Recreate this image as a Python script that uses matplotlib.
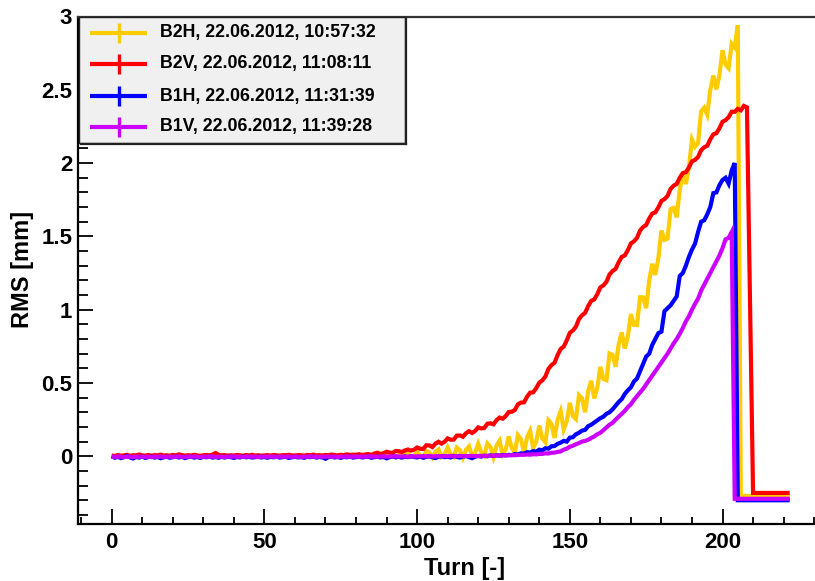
import numpy as np
import matplotlib
matplotlib.use("Agg")
import matplotlib.pyplot as plt
from matplotlib.lines import Line2D
from matplotlib.patches import Rectangle
from matplotlib.ticker import MultipleLocator

plt.rcParams['font.family'] = ['Liberation Sans', 'DejaVu Sans']
plt.rcParams['font.weight'] = 'bold'

turns = np.arange(223)

labels = ["B2H, 22.06.2012, 10:57:32",
          "B2V, 22.06.2012, 11:08:11",
          "B1H, 22.06.2012, 11:31:39",
          "B1V, 22.06.2012, 11:39:28"]
colors = ["#ffcc00", "#ff0000", "#0000ff", "#cc00ff"]

b2h = [
    0.000, 0.004, -0.003, 0.002, -0.005, 0.003, 0.000, -0.004, 0.005, -0.002,
    0.001, -0.004, 0.003, -0.001, 0.004, -0.003, 0.002, -0.005, 0.001, 0.003,
    -0.002, 0.004, -0.004, 0.002, -0.001, 0.005, -0.003, 0.000, 0.003, -0.004,
    0.002, -0.002, 0.004, -0.003, 0.006, 0.001, -0.004, 0.002, -0.002, 0.003,
    -0.005, 0.001, 0.004, -0.002, 0.002, -0.004, 0.003, 0.000, -0.003, 0.004,
    -0.001, 0.002, -0.004, 0.003, 0.000, -0.003, 0.005, -0.002, 0.001, -0.004,
    0.003, -0.001, 0.004, -0.003, 0.002, -0.005, 0.003, 0.001, -0.002, 0.004,
    -0.004, 0.002, 0.000, -0.003, 0.005, -0.002, 0.003, -0.004, 0.006, -0.001,
    0.004, -0.005, 0.007, -0.002, 0.005, -0.006, 0.008, -0.003, 0.006, -0.007,
    0.009, -0.004, 0.007, -0.008, 0.010,
    -0.005, 0.010, 0.018, -0.005, 0.003, 0.030, 0.005, -0.005, 0.036, 0.026,
    -0.008, 0.030, 0.047, -0.003, 0.014, 0.060, 0.015, -0.003, 0.059, 0.041,
    -0.010, 0.045, 0.068, 0.001, 0.024, 0.085, 0.027, 0.004, 0.087, 0.064,
    -0.005, 0.072, 0.106, 0.013, 0.046, 0.135, 0.055, 0.027, 0.144, 0.116,
    0.028, 0.129, 0.173, 0.056, 0.100, 0.210, 0.121, 0.096, 0.245, 0.220,
    0.125, 0.250, 0.307, 0.183, 0.240, 0.365, 0.275, 0.254, 0.417, 0.396,
    0.300, 0.444, 0.515, 0.395, 0.466, 0.610, 0.528, 0.519, 0.701, 0.692,
    0.610, 0.764, 0.845, 0.735, 0.816, 0.970, 0.896, 0.895, 1.085, 1.084,
    1.010, 1.198, 1.313, 1.237, 1.352, 1.540, 1.476, 1.485, 1.685, 1.694,
    1.630, 1.818, 1.933, 1.857, 1.972, 2.160, 2.112, 2.137, 2.353, 2.378,
    2.330, 2.500, 2.597, 2.503, 2.600, 2.770, 2.672, 2.647, 2.813, 2.788,
    2.940,
    -0.27, -0.27, -0.27, -0.27, -0.27, -0.27, -0.27, -0.27, -0.27, -0.27,
    -0.27, -0.27, -0.27, -0.27, -0.27, -0.27, -0.27,
]

b2v = [
    0.005, 0.002, 0.008, 0.004, 0.006, 0.010, 0.003, 0.007, 0.005, 0.012,
    0.006, 0.004, 0.009, 0.003, 0.008, 0.006, 0.011, 0.005, 0.007, 0.004,
    0.009, 0.006, 0.013, 0.008, 0.004, 0.007, 0.005, 0.010, 0.006, 0.003,
    0.007, 0.009, 0.006, 0.012, 0.022, 0.010, 0.006, 0.008, 0.004, 0.007,
    0.005, 0.009, 0.006, 0.004, 0.008, 0.006, 0.010, 0.005, 0.007, 0.003,
    0.006, 0.008, 0.005, 0.009, 0.006, 0.004, 0.008, 0.007, 0.010, 0.006,
    0.005, 0.008, 0.007, 0.004, 0.009, 0.007, 0.011, 0.006, 0.008, 0.005,
    0.009, 0.007, 0.012, 0.008, 0.006, 0.010, 0.008, 0.013, 0.009, 0.011,
    0.010, 0.014, 0.009, 0.012, 0.015,
    0.009, 0.019, 0.024, 0.016, 0.021, 0.031, 0.025, 0.024, 0.036, 0.035,
    0.029, 0.040, 0.046, 0.039, 0.045, 0.060, 0.051, 0.050, 0.075, 0.074,
    0.063, 0.086, 0.099, 0.086, 0.099, 0.122, 0.113, 0.114, 0.141, 0.142,
    0.133, 0.157, 0.171, 0.159, 0.173, 0.197, 0.190, 0.193, 0.222, 0.225,
    0.218, 0.246, 0.264, 0.256, 0.274, 0.302, 0.304, 0.316, 0.354, 0.366,
    0.368, 0.406, 0.434, 0.436, 0.464, 0.502, 0.518, 0.544, 0.596, 0.622,
    0.638, 0.690, 0.732, 0.748, 0.790, 0.842, 0.858, 0.884, 0.936, 0.962,
    0.978, 1.024, 1.060, 1.070, 1.106, 1.152, 1.166, 1.190, 1.240, 1.264,
    1.278, 1.324, 1.360, 1.370, 1.406, 1.452, 1.466, 1.490, 1.540, 1.564,
    1.578, 1.622, 1.656, 1.664, 1.698, 1.742, 1.754, 1.776, 1.824, 1.846,
    1.858, 1.900, 1.932, 1.938, 1.970, 2.012, 2.022, 2.042, 2.088, 2.108,
    2.118, 2.162, 2.196, 2.204, 2.238, 2.282, 2.293, 2.313, 2.350, 2.350,
    2.370, 2.360, 2.390, 2.380,
    1.070,
    -0.25, -0.25, -0.25, -0.25, -0.25, -0.25, -0.25, -0.25, -0.25, -0.25,
    -0.25, -0.25, -0.25,
]

b1h = [
    0.000, -0.010, -0.004, -0.012, -0.006, 0.002, -0.008, -0.015, -0.005, -0.009,
    -0.003, -0.011, -0.006, -0.002, -0.009, -0.005, -0.013, -0.007, -0.003, -0.010,
    -0.006, -0.002, -0.008, -0.004, -0.012, -0.006, -0.003, -0.009, -0.005, -0.011,
    -0.004, -0.007, -0.002, -0.009, -0.005, -0.010, -0.004, -0.008, -0.003, -0.006,
    -0.011, -0.005, -0.008, -0.002, -0.007, -0.004, -0.009, -0.006, -0.003, -0.008,
    -0.005, -0.010, -0.004, -0.007, -0.003, -0.009, -0.006, -0.004, -0.011, -0.007,
    -0.003, -0.008, -0.005, -0.010, -0.004, -0.006, -0.002, -0.009, -0.005, -0.008,
    -0.017, -0.006, -0.003, -0.008, -0.005, -0.011, -0.004, -0.007, -0.002, -0.009,
    -0.006, -0.003, -0.008, -0.005, -0.002, -0.010, -0.006, -0.003, -0.008, -0.004,
    -0.014, -0.006, -0.002, -0.007, -0.004, -0.009, -0.003, -0.006, 0.000, -0.005,
    -0.008, -0.003, -0.010, -0.004, -0.001, -0.007, -0.012, -0.004, 0.000, -0.006,
    -0.003, -0.008, 0.002, -0.004, -0.009, -0.002, 0.001, -0.006, -0.013, -0.003,
    0.002, -0.002, 0.004, 0.000, 0.006, 0.003, 0.007, 0.004, 0.009, 0.006,
    0.010, 0.008, 0.015, 0.012, 0.020, 0.018, 0.028, 0.025, 0.035, 0.032,
    0.045, 0.040, 0.055, 0.052, 0.068, 0.070, 0.085, 0.093, 0.105, 0.100,
    0.127, 0.130, 0.150, 0.160, 0.175, 0.180, 0.205, 0.215, 0.230, 0.245,
    0.260, 0.270, 0.290, 0.300, 0.320, 0.345, 0.370, 0.390, 0.425, 0.450,
    0.470, 0.510, 0.530, 0.580, 0.630, 0.680, 0.700, 0.760, 0.800, 0.840,
    0.850, 0.990, 1.010, 1.030, 1.060, 1.090, 1.230, 1.250, 1.300, 1.360,
    1.410, 1.450, 1.530, 1.600, 1.610, 1.650, 1.700, 1.795, 1.800, 1.850,
    1.885, 1.900, 1.860, 1.950, 2.000,
    -0.30, -0.30, -0.30, -0.30, -0.30, -0.30, -0.30, -0.30, -0.30, -0.30,
    -0.30, -0.30, -0.30, -0.30, -0.30, -0.30, -0.30, -0.30,
]

b1v = [
    -0.002, -0.005, -0.001, -0.004, -0.006, -0.002, -0.003, -0.007, -0.002, -0.004,
    -0.001, -0.005, -0.003, -0.006, -0.002, -0.004, -0.001, -0.005, -0.003, -0.002,
    -0.006, -0.003, -0.001, -0.004, -0.005, -0.002, -0.004, -0.001, -0.003, -0.006,
    -0.002, -0.004, -0.003, -0.001, -0.005, -0.002, -0.004, -0.006, -0.002, -0.003,
    -0.001, -0.004, -0.002, -0.005, -0.003, -0.001, -0.004, -0.002, -0.006, -0.003,
    -0.002, -0.004, -0.001, -0.003, -0.005, -0.002, -0.004, -0.003, -0.001, -0.005,
    -0.002, -0.003, -0.006, -0.002, -0.004, -0.001, -0.003, -0.005, -0.002, -0.004,
    -0.003, -0.001, -0.004, -0.002, -0.005, -0.003, -0.001, -0.004, -0.002, -0.003,
    -0.001, -0.004, -0.002, -0.003, 0.000, -0.003, -0.001, -0.004, -0.002, 0.000,
    -0.003, -0.001, -0.002, 0.001, -0.002, -0.001, 0.000, -0.003, 0.001, -0.001,
    0.000, -0.002, 0.001, -0.001, 0.002, -0.001, 0.000, 0.002, -0.001, 0.001,
    0.000, 0.002, -0.001, 0.001, 0.003, 0.000, 0.002, 0.001, 0.003, 0.001,
    0.002, 0.003, 0.002, 0.004, 0.003, 0.005, 0.004, 0.006, 0.005, 0.007,
    0.006, 0.008, 0.007, 0.009, 0.010, 0.010, 0.012, 0.011, 0.014, 0.013,
    0.016, 0.016, 0.020, 0.019, 0.024, 0.025, 0.030, 0.033, 0.045, 0.052,
    0.065, 0.072, 0.082, 0.090, 0.100, 0.105, 0.112, 0.125, 0.135, 0.150,
    0.160, 0.178, 0.195, 0.215, 0.228, 0.250, 0.270, 0.290, 0.310, 0.335,
    0.355, 0.385, 0.410, 0.435, 0.460, 0.490, 0.520, 0.550, 0.580, 0.610,
    0.640, 0.670, 0.700, 0.735, 0.770, 0.800, 0.835, 0.875, 0.920, 0.955,
    1.000, 1.040, 1.075, 1.130, 1.170, 1.210, 1.250, 1.290, 1.330, 1.370,
    1.420, 1.480, 1.490, 1.530,
    -0.29, -0.29, -0.29, -0.29, -0.29, -0.29, -0.29, -0.29, -0.29, -0.29,
    -0.29, -0.29, -0.29, -0.29, -0.29, -0.29, -0.29, -0.29, -0.29,
]

series = [b2h, b2v, b1h, b1v]

W, H = 815, 581
fig = plt.figure(figsize=(W / 100, H / 100), dpi=100)
fig.patch.set_facecolor("white")

# frame spans slightly past the right edge of the canvas
ax_l, ax_r, ax_t, ax_b = 77.8, 823.6, 16.5, 524.0
ax = fig.add_axes([ax_l / W, 1 - ax_b / H, (ax_r - ax_l) / W, (ax_b - ax_t) / H])
ax.set_xlim(-11.1, 233.1)
ax.set_ylim(-0.462, 3.0)

for vals, col in zip(series, colors):
    ax.plot(turns, vals, color=col, lw=3.0, solid_joinstyle="miter",
            solid_capstyle="butt", zorder=3)

for side in ("left", "bottom", "top", "right"):
    ax.spines[side].set_linewidth(1.6)
    ax.spines[side].set_color("black")
ax.spines["top"].set_color("#333333")

ax.xaxis.set_major_locator(MultipleLocator(50))
ax.xaxis.set_minor_locator(MultipleLocator(10))
ax.yaxis.set_major_locator(MultipleLocator(0.5))
ax.yaxis.set_minor_locator(MultipleLocator(0.1))
ax.tick_params(which="both", direction="in", top=False, right=False, width=1.3,
               color="black", labelsize=16)
ax.tick_params(axis="y", which="major", length=10.5, pad=4)
ax.tick_params(axis="y", which="minor", length=7.5)
ax.tick_params(axis="x", which="major", length=10.5, pad=6)
ax.tick_params(axis="x", which="minor", length=5.3)
ax.yaxis.set_major_formatter(plt.FuncFormatter(lambda v, p: f"{v:g}"))
for lab in ax.get_xticklabels() + ax.get_yticklabels():
    lab.set_fontweight("bold")

fig.text(465 / W, 1 - 568 / H, "Turn [-]", ha="center", va="center",
         fontsize=17, fontweight="bold")
fig.text(23 / W, 1 - 269 / H, "RMS [mm]", ha="center", va="center",
         rotation=90, fontsize=17, fontweight="bold")

# legend box
def fx(px):
    return px / W

def fy(py):
    return 1 - py / H

lx0, lx1, ly0, ly1 = 78.5, 404.5, 17.0, 142.5
fig.add_artist(Rectangle((fx(lx0), fy(ly1)), fx(lx1) - fx(lx0), fy(ly0) - fy(ly1),
                         transform=fig.transFigure, facecolor="#f0f0f0",
                         edgecolor="#222222", lw=1.0, zorder=5))
fig.add_artist(Line2D([fx(lx1 + 1), fx(lx1 + 1)], [fy(ly0 + 2), fy(ly1 + 1.5)],
                      transform=fig.transFigure, color="#222222", lw=1.6, zorder=6))
fig.add_artist(Line2D([fx(lx0 + 2), fx(lx1 + 1.5)], [fy(ly1 + 1), fy(ly1 + 1)],
                      transform=fig.transFigure, color="#222222", lw=1.6, zorder=6))

rows = [33, 63.5, 96, 127]
for lab, col, ry in zip(labels, colors, rows):
    fig.add_artist(Line2D([fx(90), fx(147)], [fy(ry), fy(ry)], transform=fig.transFigure,
                          color=col, lw=3.0, solid_capstyle="butt", zorder=7))
    fig.add_artist(Line2D([fx(118.5), fx(118.5)], [fy(ry - 10), fy(ry + 10)],
                          transform=fig.transFigure, color=col, lw=2.4,
                          solid_capstyle="butt", zorder=7))
    fig.text(fx(160), fy(ry), lab, ha="left", va="center", fontsize=12.8,
             fontweight="bold", zorder=8)

fig.savefig("out.png", dpi=100)
